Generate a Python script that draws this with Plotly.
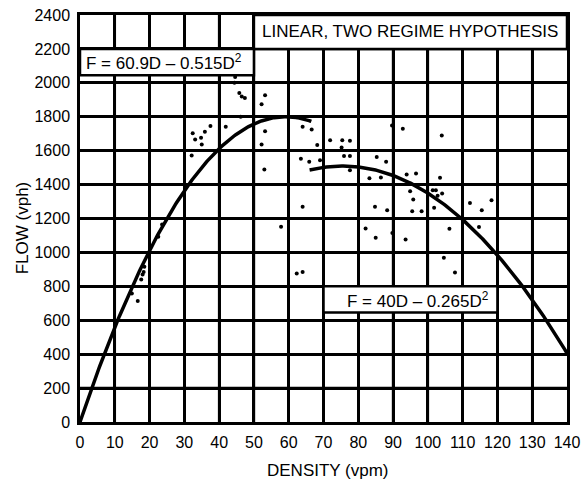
import numpy as np
import plotly.graph_objects as go

# Observed flow-density pairs (density in vpm, flow in vph)
density = [
    14.9, 16.6, 17.6, 18.0, 18.3, 18.5, 22.5, 23.6,
    32.1, 32.4, 33.1, 34.8, 35.0, 35.9, 37.5, 41.9,
    44.4, 44.6, 45.8, 46.5, 47.4, 46.2, 52.2, 53.2, 53.2, 52.2, 53.0, 57.8,
    63.5, 65.9, 69.0, 64.0, 66.6, 68.2, 71.9, 75.4, 77.6, 75.2, 75.9, 77.6, 77.6,
    64.0, 62.3, 64.0,
    89.7, 92.8, 104.0, 85.3, 88.0, 83.2, 86.5, 93.9, 96.6, 103.5,
    101.4, 102.3, 102.8, 104.1, 94.9, 95.8, 101.8, 84.8, 88.3, 95.5, 98.2,
    112.1, 115.5, 118.3, 106.2, 114.7, 82.1, 85.0, 89.8, 93.6, 104.6, 107.8,
]
flow = [
    758, 714, 840, 870, 885, 915, 1092, 1165,
    1572, 1702, 1666, 1676, 1637, 1711, 1746, 1741,
    2000, 2035, 1940, 1920, 1910, 1800, 1873, 1927, 1715, 1637, 1489, 1151,
    1552, 1534, 1544, 1741, 1725, 1633, 1662, 1662, 1658, 1619, 1568, 1568, 1485,
    1269, 876, 885,
    1749, 1729, 1690, 1563, 1534, 1438, 1442, 1460, 1466, 1440,
    1367, 1367, 1334, 1348, 1361, 1312, 1263, 1269, 1249, 1243, 1243,
    1292, 1249, 1308, 1139, 1150, 1141, 1086, 1115, 1076, 968, 881,
]

# Two-regime parabolic fits: F = a*D - b*D^2
free_a, free_b = 60.9, 0.515
cong_a, cong_b = 40.0, 0.265
free_range = (0.0, 66.5)
cong_range = (66.0, 140.0)

x_ticks = list(range(0, 141, 10))
y_ticks = list(range(0, 2401, 200))
x_range = (0, 140)
y_range = (0, 2400)

FONT = "Liberation Sans, Arial, sans-serif"
GRID_W = 2.5

fig = go.Figure()

# Heavy graph-paper grid: verticals span the flow range,
# horizontals pass through every density tick
for xv in x_ticks[1:-1]:
    fig.add_trace(go.Scatter(
        x=[xv, xv], y=[y_range[0], y_range[1]], mode="lines",
        line=dict(color="#000000", width=GRID_W), hoverinfo="skip",
    ))
for yv in y_ticks[1:-1]:
    fig.add_trace(go.Scatter(
        x=x_ticks, y=[yv] * len(x_ticks), mode="lines",
        line=dict(color="#000000", width=GRID_W, simplify=False),
        hoverinfo="skip",
    ))

d_free = np.linspace(*free_range, 200)
d_cong = np.linspace(*cong_range, 200)
fig.add_trace(go.Scatter(
    x=d_free, y=free_a * d_free - free_b * d_free ** 2,
    mode="lines", line=dict(color="black", width=3.5), hoverinfo="skip",
))
fig.add_trace(go.Scatter(
    x=d_cong, y=cong_a * d_cong - cong_b * d_cong ** 2,
    mode="lines", line=dict(color="black", width=3.5), hoverinfo="skip",
))
fig.add_trace(go.Scatter(
    x=density, y=flow, mode="markers",
    marker=dict(color="black", size=4),
))

# Label boxes sit over the grid
box_line = dict(color="black", width=GRID_W)
fig.add_shape(type="rect", x0=50, x1=140, y0=2200, y1=2400,
              fillcolor="white", line=box_line, layer="above")
fig.add_shape(type="rect", x0=0, x1=50, y0=2045, y1=2200,
              fillcolor="white", line=box_line, layer="above")
fig.add_shape(type="rect", x0=70, x1=120, y0=645, y1=800,
              fillcolor="white", line=box_line, layer="above")

fig.add_annotation(x=95, y=2300, text="LINEAR, TWO REGIME HYPOTHESIS",
                   showarrow=False, font=dict(family=FONT, size=17, color="black"))
fig.add_annotation(x=24.1, y=2124, text="F = 60.9D – 0.515D<sup>2</sup>",
                   showarrow=False, font=dict(family=FONT, size=17, color="black"))
fig.add_annotation(x=97.3, y=718, text="F = 40D – 0.265D<sup>2</sup>",
                   showarrow=False, font=dict(family=FONT, size=17, color="black"))

# Axis titles
fig.add_annotation(xref="paper", yref="paper", x=-0.119, y=0.476,
                   text="FLOW (vph)", textangle=-90, showarrow=False,
                   xanchor="center", yanchor="middle",
                   font=dict(family=FONT, size=17, color="black"))
fig.add_annotation(xref="paper", yref="paper", x=0.509, y=-0.119,
                   text="DENSITY (vpm)", showarrow=False,
                   xanchor="center", yanchor="middle",
                   font=dict(family=FONT, size=17, color="black"))

axis_common = dict(
    showline=True, linecolor="black", linewidth=GRID_W, mirror=True,
    zeroline=False, ticks="outside", tickcolor="rgba(0,0,0,0)",
    tickfont=dict(family=FONT, size=16, color="black"),
    showgrid=True, gridcolor="#000000", gridwidth=GRID_W,
)
fig.update_xaxes(range=list(x_range), tickmode="array", tickvals=x_ticks,
                 ticktext=[str(v) for v in x_ticks], ticklen=4, **axis_common)
fig.update_yaxes(range=list(y_range), tickmode="array", tickvals=y_ticks,
                 ticktext=[str(v) for v in y_ticks], ticklen=4, **axis_common)

fig.update_layout(
    template="none",
    width=582, height=486,
    margin=dict(l=80, r=15, t=15, b=64),
    paper_bgcolor="white", plot_bgcolor="white",
    showlegend=False,
)

fig.write_html("out.html")
